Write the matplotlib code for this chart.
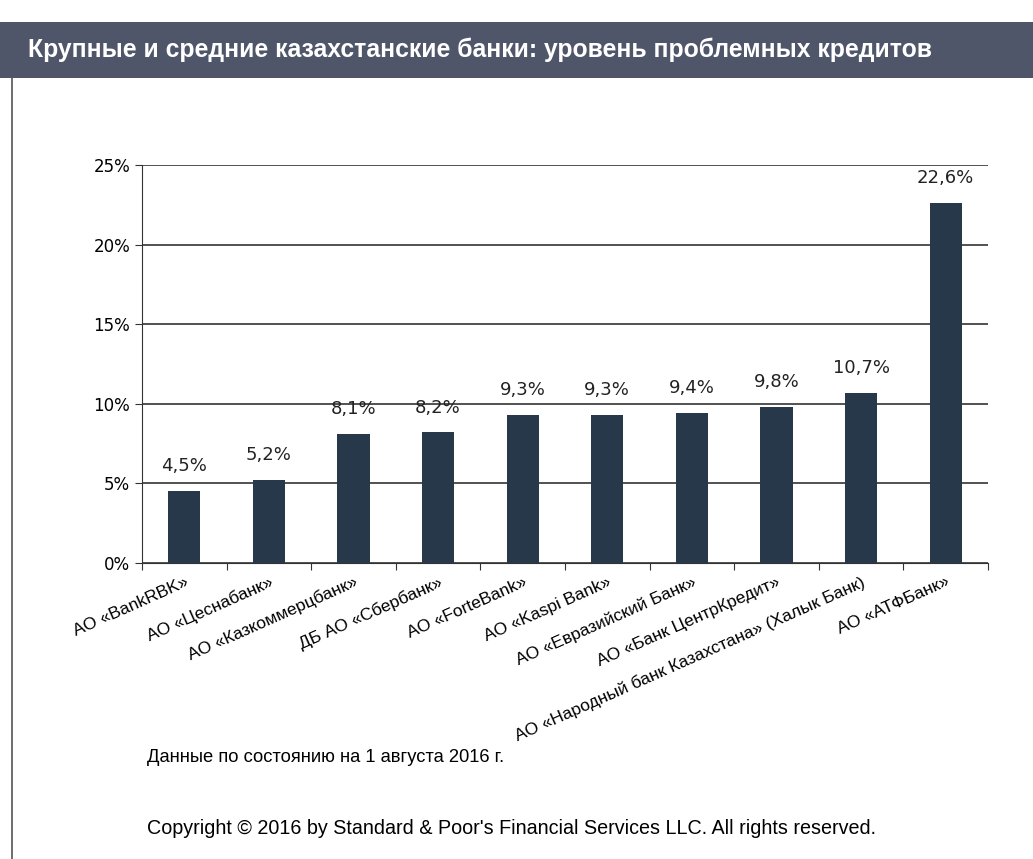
import matplotlib
matplotlib.use("Agg")
import matplotlib.pyplot as plt
import numpy as np
from matplotlib.patches import Rectangle
from matplotlib.lines import Line2D

banks = [
    "АО «BankRBK»",
    "АО «Цеснабанк»",
    "АО «Казкоммерцбанк»",
    "ДБ АО «Сбербанк»",
    "АО «ForteBank»",
    "АО «Kaspi Bank»",
    "АО «Евразийский Банк»",
    "АО «Банк ЦентрКредит»",
    "АО «Народный банк Казахстана» (Халык Банк)",
    "АО «АТФБанк»",
]
npl = [4.5, 5.2, 8.1, 8.2, 9.3, 9.3, 9.4, 9.8, 10.7, 22.6]
npl_labels = ["4,5%", "5,2%", "8,1%", "8,2%", "9,3%", "9,3%", "9,4%", "9,8%", "10,7%", "22,6%"]
yticks = [0, 5, 10, 15, 20, 25]

sans = ["Liberation Sans", "DejaVu Sans"]

fig = plt.figure(figsize=(10.33, 8.59), dpi=100)
fig.patch.set_facecolor("white")

# header band
fig.patches.append(Rectangle((0, 1 - 78 / 859), 1, 56 / 859, transform=fig.transFigure,
                             facecolor="#4f566a", edgecolor="none"))
fig.text(28 / 1033, 1 - 50 / 859, "Крупные и средние казахстанские банки: уровень проблемных кредитов",
         color="white", fontsize=17.8, fontweight="bold", family=sans, va="center", ha="left")
# left frame line
fig.lines.append(Line2D([12 / 1033, 12 / 1033], [0, 1 - 78 / 859], transform=fig.transFigure,
                        color="#555555", lw=1.2))

ax = fig.add_axes([142 / 1033, 1 - 563 / 859, (988 - 142) / 1033, (563 - 165) / 859])
x = np.arange(len(banks))
ax.bar(x, npl, width=0.38, color="#27384b", zorder=3)
for xi, v, lab in zip(x, npl, npl_labels):
    ax.text(xi, v + 1.0, lab, ha="center", va="bottom", fontsize=13, color="#222222",
            family="DejaVu Sans")

ax.set_xlim(-0.5, len(banks) - 0.5)
ax.set_ylim(0, 25)
ax.set_yticks(yticks)
ax.set_yticklabels([f"{t}%" for t in yticks], fontsize=12, family="DejaVu Sans")
ax.yaxis.grid(True, color="#222222", lw=1.1, zorder=1)
ax.set_axisbelow(True)

ax.set_xticks(np.arange(len(banks) + 1) - 0.5)
ax.set_xticklabels([])
ax.set_xticks(x, minor=True)
ax.set_xticklabels(banks, minor=True, rotation=24, ha="right", rotation_mode="anchor",
                   fontsize=12.5, family=sans)
ax.tick_params(axis="x", which="minor", length=0, pad=8)
ax.tick_params(axis="x", which="major", length=5, direction="out", color="#333333")
ax.tick_params(axis="y", length=5, direction="out", color="#333333")

for s in ["top", "right"]:
    ax.spines[s].set_visible(False)
ax.spines["left"].set_color("#333333")
ax.spines["bottom"].set_color("#333333")

fig.text(147 / 1033, 1 - 758 / 859, "Данные по состоянию на 1 августа 2016 г.",
         fontsize=13.2, family=sans, va="center", ha="left")
fig.text(147 / 1033, 1 - 829 / 859,
         "Copyright © 2016 by Standard & Poor's Financial Services LLC. All rights reserved.",
         fontsize=14.2, family=sans, va="center", ha="left")

fig.savefig("out.png", dpi=100)
